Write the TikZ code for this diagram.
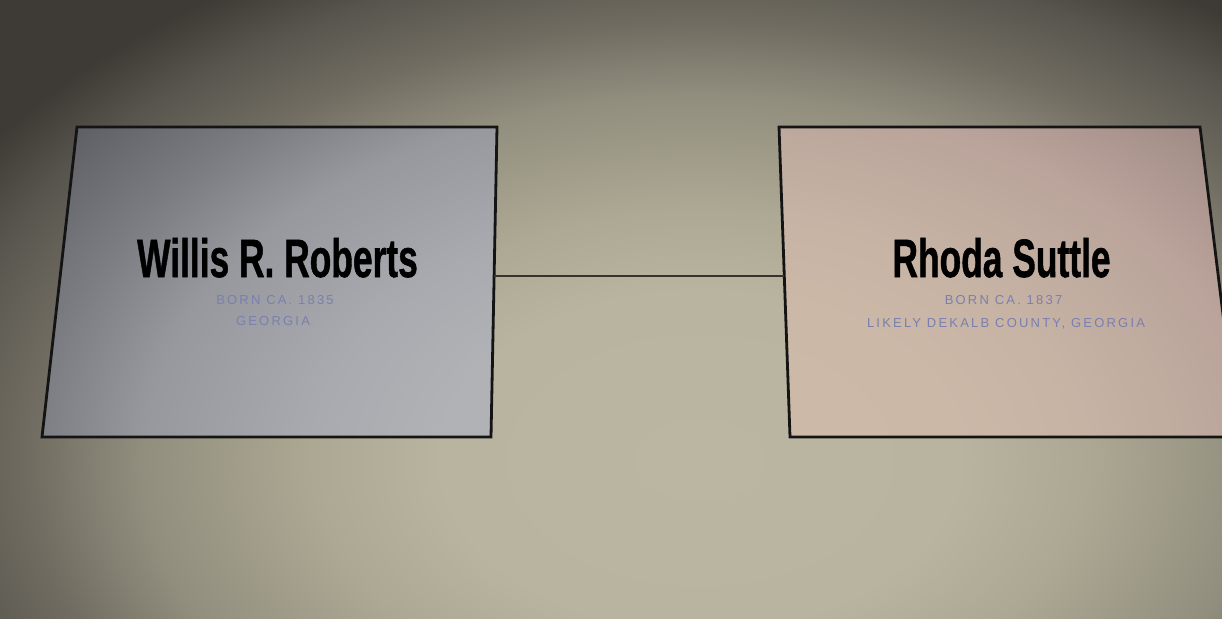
\documentclass[tikz,border=0pt]{standalone}
\usepackage{fontspec}
\setmainfont{Liberation Sans}
\newfontfamily\subfont[LetterSpace=17]{Liberation Sans}
\newfontfamily\namefont[FakeBold=1.2]{Liberation Sans Bold}
\usetikzlibrary{calc}
\definecolor{subcol}{HTML}{7A7FAF}
\definecolor{edge}{HTML}{141414}
\definecolor{conn}{HTML}{36332D}
\pgfdeclareradialshading{bgshade}{\pgfpointorigin}{color(0bp)=(rgb,255:red,186;green,182;blue,161); color(7.5bp)=(rgb,255:red,184;green,180;blue,160); color(11.25bp)=(rgb,255:red,172;green,168;blue,147); color(16.25bp)=(rgb,255:red,146;green,142;blue,126); color(19.5bp)=(rgb,255:red,112;green,108;blue,97); color(22.5bp)=(rgb,255:red,88;green,85;blue,78); color(25bp)=(rgb,255:red,62;green,59;blue,54); color(50bp)=(rgb,255:red,62;green,59;blue,54)}
\pgfdeclareradialshading{lshade}{\pgfpointorigin}{color(0bp)=(rgb,255:red,178;green,180;blue,184); color(7.5bp)=(rgb,255:red,176;green,178;blue,182); color(11.25bp)=(rgb,255:red,168;green,170;blue,175); color(16.25bp)=(rgb,255:red,150;green,152;blue,158); color(19.5bp)=(rgb,255:red,122;green,124;blue,130); color(22.5bp)=(rgb,255:red,100;green,102;blue,107); color(25bp)=(rgb,255:red,82;green,84;blue,88); color(50bp)=(rgb,255:red,82;green,84;blue,88)}
\pgfdeclareradialshading{rshade}{\pgfpointorigin}{color(0bp)=(rgb,255:red,205;green,186;blue,168); color(7.5bp)=(rgb,255:red,203;green,184;blue,167); color(11.25bp)=(rgb,255:red,198;green,179;blue,164); color(16.25bp)=(rgb,255:red,186;green,164;blue,155); color(19.5bp)=(rgb,255:red,168;green,146;blue,140); color(22.5bp)=(rgb,255:red,146;green,127;blue,122); color(25bp)=(rgb,255:red,118;green,102;blue,98); color(50bp)=(rgb,255:red,118;green,102;blue,98)}
\tikzset{
  boxedge/.style={draw=edge, line width=2.8pt, line join=miter},
  namelbl/.style={anchor=base, inner sep=0pt, font=\fontsize{54}{60}\namefont, text=black},
  sublbl/.style={anchor=base, inner sep=0pt, font=\fontsize{13}{15}\subfont, text=subcol},
  connector/.style={draw=conn, line width=2.6pt}
}
\begin{document}
\begin{tikzpicture}[x=1pt,y=-1pt]
\useasboundingbox (0,0) rectangle (1222,618);
\begin{scope}
\clip (0,0) rectangle (1222,618);
\shade[shading=bgshade] (-160,-100) rectangle (1560,1020);
\end{scope}
% left box
\coordinate (L1) at (77,127);
\coordinate (L2) at (497,127);
\coordinate (L3) at (491,437);
\coordinate (L4) at (42,437);
\begin{scope}
\clip (L1) -- (L2) -- (L3) -- (L4) -- cycle;
\shade[shading=lshade] (-160,-100) rectangle (1560,1020);
\end{scope}
\path[boxedge] (L1) -- (L2) -- (L3) -- (L4) -- cycle;
% right box
\coordinate (R1) at (779,127);
\coordinate (R2) at (1200,127);
\coordinate (R3) at (1238,437);
\coordinate (R4) at (790,437);
\begin{scope}
\clip (0,0) rectangle (1222,618);
\begin{scope}
\clip (R1) -- (R2) -- (R3) -- (R4) -- cycle;
\shade[shading=rshade] (-160,-100) rectangle (1560,1020);
\end{scope}
\path[boxedge] (R1) -- (R2) -- (R3) -- (R4) -- cycle;
\end{scope}
% connector
\coordinate (cl) at ($(L2)!0.4806!(L3)$);
\coordinate (cr) at ($(R1)!0.4806!(R4)$);
\path[connector] (cl) -- (cr);
% texts
\node[namelbl] (n1) at (277.5,277) {\scalebox{0.655}[1]{Willis R. Roberts}};
\node[sublbl] (b1) at (275,304) {BORN CA. 1835};
\node[sublbl] (p1) at (273,325) {GEORGIA};
\node[namelbl] (n2) at (1001.5,277) {\scalebox{0.655}[1]{Rhoda Suttle}};
\node[sublbl] (b2) at (1003.5,304) {BORN CA. 1837};
\node[sublbl] (p2) at (1006,327) {LIKELY DEKALB COUNTY, GEORGIA};
\end{tikzpicture}
\end{document}
